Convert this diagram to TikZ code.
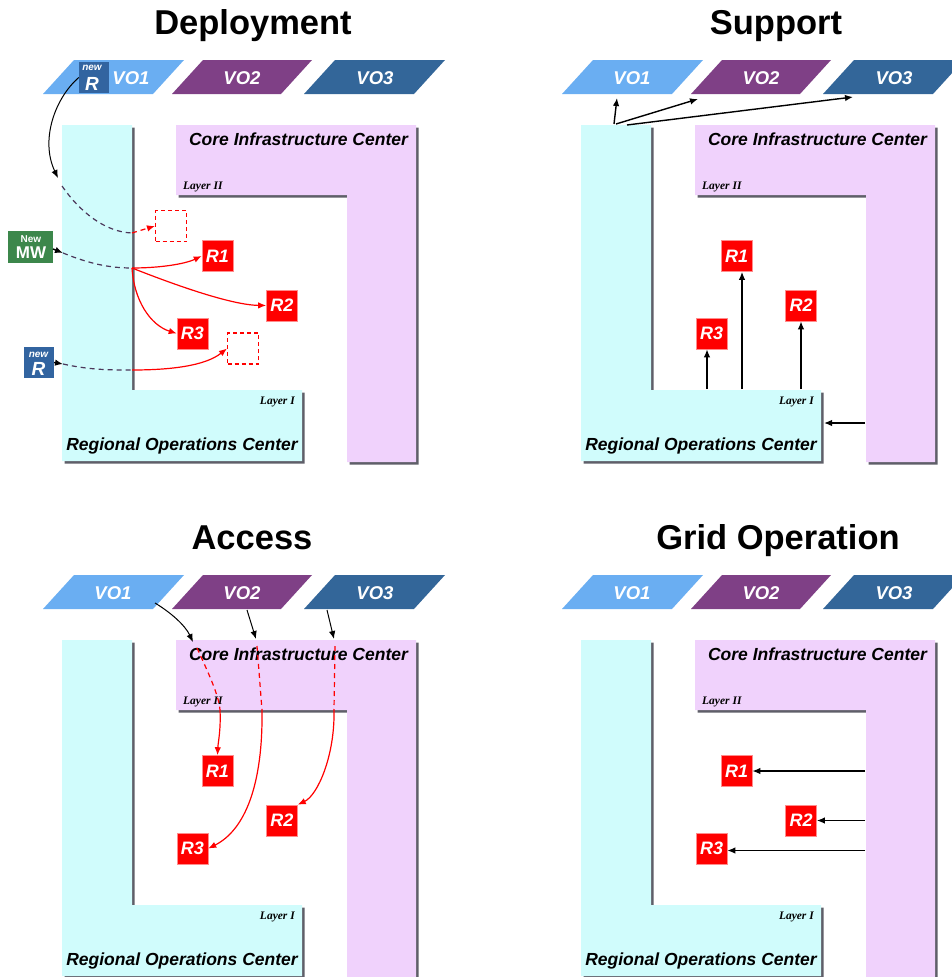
\documentclass[tikz,border=0pt]{standalone}
\usepackage{fontspec}
\setmainfont{Liberation Sans}
\newfontfamily\myserif{Liberation Serif}
\usetikzlibrary{arrows.meta}
\definecolor{cyanfill}{RGB}{208,252,252}
\definecolor{pinkfill}{RGB}{240,210,252}
\definecolor{vooc}{RGB}{106,174,242}
\definecolor{votc}{RGB}{127,64,134}
\definecolor{vohc}{RGB}{51,102,153}
\definecolor{shad}{RGB}{95,95,105}
\definecolor{rred}{RGB}{255,0,0}
\definecolor{newrc}{RGB}{50,100,160}
\definecolor{mwc}{RGB}{60,135,75}
\definecolor{dashc}{RGB}{75,55,90}
\tikzset{
  titletext/.style={font=\fontsize{34.5}{34.5}\selectfont\bfseries, inner sep=0pt},
  votext/.style={font=\fontsize{18.5}{18.5}\selectfont\bfseries\itshape, text=white, inner sep=0pt},
  boxlabel/.style={font=\fontsize{17.5}{17.5}\selectfont\bfseries\itshape, inner sep=0pt},
  layerlabel/.style={font=\myserif\fontsize{11.5}{11.5}\selectfont\bfseries\itshape, inner sep=0pt},
  rbox/.style={fill=rred, draw=red!45!white, line width=0.6pt, minimum size=31pt, inner sep=0pt, text=white, font=\fontsize{18}{18}\selectfont\bfseries\itshape},
  ghostbox/.style={draw=red, dash pattern=on 4pt off 3pt, line width=1.1pt, minimum size=31pt, inner sep=0pt},
  smallbox/.style={minimum width=30pt, minimum height=31pt, inner sep=0pt},
  tinytext/.style={text=white, inner sep=0pt, font=\fontsize{10}{10}\selectfont\bfseries\itshape},
  bigtext/.style={text=white, inner sep=0pt, font=\fontsize{19}{19}\selectfont\bfseries\itshape},
  arr/.style={-{Latex[length=8pt,width=6.5pt]}, line width=1.4pt, black},
  thinarr/.style={-{Latex[length=8pt,width=6.5pt]}, line width=1pt, black},
  redarr/.style={-{Latex[length=8pt,width=6.5pt]}, line width=1.2pt, red},
  reddash/.style={red, line width=1.2pt, dash pattern=on 5pt off 4pt},
  darkdash/.style={dashc, line width=1.2pt, dash pattern=on 5pt off 4pt},
}
% #1 = name prefix, #2 = x of VO1 text
\newcommand\panelbase[2]{%
  \fill[vooc] (43,94) -- (74,60) -- (184,60) -- (153,94) -- cycle;
  \fill[votc] (172,94) -- (203,60) -- (312,60) -- (281,94) -- cycle;
  \fill[vohc] (304,94) -- (335,60) -- (445,60) -- (414,94) -- cycle;
  \node[votext, anchor=base] (#1vo1) at (#2,84) {VO1};
  \node[votext, anchor=base] (#1vo2) at (242,84) {VO2};
  \node[votext, anchor=base] (#1vo3) at (375,84) {VO3};
  \fill[shad] (64.5,127.5) -- (134.5,127.5) -- (134.5,392.5) -- (304.5,392.5) -- (304.5,463.5) -- (64.5,463.5) -- cycle;
  \fill[cyanfill] (62,125) -- (132,125) -- (132,390) -- (302,390) -- (302,461) -- (62,461) -- cycle;
  \fill[shad] (178.5,127.5) -- (418.5,127.5) -- (418.5,464.5) -- (349.5,464.5) -- (349.5,197.5) -- (178.5,197.5) -- cycle;
  \fill[pinkfill] (176,125) -- (416,125) -- (416,462) -- (347,462) -- (347,195) -- (176,195) -- cycle;
  \node[boxlabel, anchor=base] (#1core) at (298.5,145) {Core Infrastructure Center};
  \node[layerlabel, anchor=base west] (#1layertwo) at (183,189) {Layer II};
  \node[layerlabel, anchor=base east] (#1layerone) at (295,404) {Layer I};
  \node[boxlabel, anchor=base] (#1roc) at (182,450) {Regional Operations Center};
  \node[rbox] (#1r1) at (217.5,256) {R1};
  \node[rbox] (#1r2) at (282,305.5) {R2};
  \node[rbox] (#1r3) at (192.5,333.5) {R3};
}
\begin{document}
\begin{tikzpicture}[x=1pt,y=-1pt]
\useasboundingbox (0,0) rectangle (952,977);
\clip (0,0) rectangle (952,977);

% Deployment
\begin{scope}
  \panelbase{D}{131}
  \node[titletext, anchor=base] (Dtitle) at (253,34) {Deployment};
  \node[ghostbox] (Dg1) at (171,226) {};
  \node[ghostbox] (Dg2) at (243,348.5) {};
  \node[smallbox, fill=newrc] (Dnewra) at (94,77.5) {};
  \node[tinytext] (Dnewrat) at (92,68) {new};
  \node[bigtext] (Dnewrar) at (92,84) {R};
  \node[smallbox, fill=mwc, minimum width=45pt, minimum height=32pt] (Dmw) at (30.5,247) {};
  \node[text=white, inner sep=0pt, font=\fontsize{10}{10}\selectfont\bfseries] (Dmwt) at (31,239.5) {New};
  \node[text=white, inner sep=0pt, font=\fontsize{17}{17}\selectfont\bfseries] (Dmwb) at (31,253) {MW};
  \node[smallbox, fill=newrc] (Dnewrb) at (39,362.5) {};
  \node[tinytext] (Dnewrbt) at (38.5,355) {new};
  \node[bigtext] (Dnewrbr) at (38.5,369) {R};
  \coordinate (Da1) at (58,178);
  \coordinate (Db1) at (62,186);
  \coordinate (Dj1) at (132,233);
  \coordinate (Da2) at (63,253);
  \coordinate (Dmwout) at (53,249);
  \coordinate (Dj2) at (132,268);
  \coordinate (Da3) at (63,364);
  \coordinate (Dj3) at (132,370);
  \draw[thinarr] (Dnewra.west) .. controls (55,98) and (40,140) .. (Da1);
  \draw[darkdash] (Db1) .. controls (80,212) and (105,232) .. (Dj1);
  \draw[reddash, -{Latex[length=8pt,width=6.5pt]}] (Dj1) -- (Dg1.west);
  \draw[arr] (Dmwout) -- (Da2);
  \draw[darkdash] (Da2) .. controls (90,264) and (110,268) .. (Dj2);
  \draw[redarr] (Dj2) .. controls (160,268) and (185,264) .. (Dr1.west);
  \draw[redarr] (Dj2) .. controls (170,283) and (230,305) .. (Dr2.west);
  \draw[redarr] (Dj2) .. controls (134,300) and (150,325) .. (Dr3.west);
  \draw[arr] (Dnewrb.east) -- (Da3);
  \draw[darkdash] (Da3) .. controls (90,370) and (110,370) .. (Dj3);
  \draw[redarr] (Dj3) .. controls (170,370) and (205,366) .. (Dg2.west);
\end{scope}

% Support
\begin{scope}[xshift=519pt]
  \panelbase{S}{113}
  \node[titletext, anchor=base] (Stitle) at (257,34) {Support};
  \coordinate (Ss1) at (95,124);
  \coordinate (Se1) at (98,98);
  \coordinate (Ss2) at (97,124);
  \coordinate (Se2) at (179,99);
  \coordinate (Ss3) at (108,125);
  \coordinate (Se3) at (334,97);
  \draw[arr] (Ss1) -- (Se1);
  \draw[arr] (Ss2) -- (Se2);
  \draw[arr] (Ss3) -- (Se3);
  \coordinate (Su3) at (188,389);
  \coordinate (Su1) at (223,389);
  \coordinate (Su2) at (282,389);
  \draw[arr] (Su3) -- (Su3 |- Sr3.south);
  \draw[arr] (Su1) -- (Su1 |- Sr1.south);
  \draw[arr] (Su2) -- (Su2 |- Sr2.south);
  \coordinate (Sp0) at (346,423);
  \coordinate (Sp1) at (305,423);
  \draw[arr] (Sp0) -- (Sp1);
\end{scope}

% Access
\begin{scope}[yshift=-515pt]
  \panelbase{A}{113}
  \node[titletext, anchor=base] (Atitle) at (252,34) {Access};
  \coordinate (Ak1) at (155,88);
  \coordinate (Am1) at (193,127);
  \coordinate (Ac1) at (197,133);
  \coordinate (Ad1) at (220,195);
  \coordinate (Ak2) at (247,95);
  \coordinate (Am2) at (256,124);
  \coordinate (Ac2) at (257,131);
  \coordinate (Ad2) at (262,195);
  \coordinate (Ak3) at (327,95);
  \coordinate (Am3) at (334,124);
  \coordinate (Ac3) at (335,131);
  \coordinate (Ad3) at (334,195);
  \draw[thinarr] (Ak1) .. controls (170,97) and (185,110) .. (Am1);
  \draw[thinarr] (Ak2) -- (Am2);
  \draw[thinarr] (Ak3) -- (Am3);
  \draw[reddash] (Ac1) .. controls (207,155) and (219,180) .. (Ad1);
  \draw[reddash] (Ac2) -- (Ad2);
  \draw[reddash] (Ac3) -- (Ad3);
  \draw[redarr] (Ad1) .. controls (221,215) and (218,228) .. (Ar1.north);
  \draw[redarr] (Ad2) .. controls (263,270) and (245,315) .. (Ar3.east);
  \draw[redarr] (Ad3) .. controls (335,240) and (318,280) .. (Ar2.north east);
\end{scope}

% Grid Operation
\begin{scope}[xshift=519pt, yshift=-515pt]
  \panelbase{G}{113}
  \node[titletext, anchor=base] (Gtitle) at (259,34) {Grid Operation};
  \coordinate (Gq1) at (346,256);
  \coordinate (Gq2) at (346,305.5);
  \coordinate (Gq3) at (346,335.5);
  \draw[arr] (Gq1) -- (Gr1.east);
  \draw[arr] (Gq2) -- (Gr2.east);
  \draw[arr] (Gq3) -- (Gq3 -| Gr3.east);
\end{scope}
\end{tikzpicture}
\end{document}
